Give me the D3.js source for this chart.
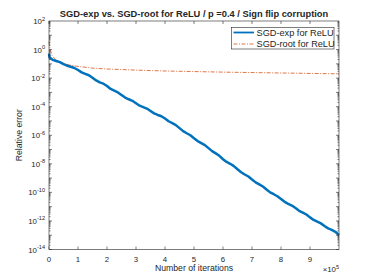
<!DOCTYPE html>
<html>
<head>
<meta charset="utf-8">
<script src="https://cdn.jsdelivr.net/npm/d3@7"></script>
<style>
  body { margin: 0; background: #fff; }
  svg text { font-family: "Liberation Sans", Arial, sans-serif; fill: #262626; }
</style>
</head>
<body>
<div id="chart"></div>
<script>
// --- Data (iterations in units of 1e5, error as log10) ---
const expIter = [0, 0.02, 0.125, 0.25, 0.375, 0.5, 0.625, 0.75, 0.875, 1.0, 1.125, 1.25, 1.375, 1.5, 1.625, 1.75,
  1.875, 2.0, 2.125, 2.25, 2.375, 2.5, 2.625, 2.75, 2.875, 3.0, 3.125, 3.25, 3.375, 3.5, 3.625, 3.75, 3.875, 4.0,
  4.125, 4.25, 4.375, 4.5, 4.625, 4.75, 4.875, 5.0, 5.125, 5.25, 5.375, 5.5, 5.625, 5.75, 5.875, 6.0, 6.125, 6.25,
  6.375, 6.5, 6.625, 6.75, 6.875, 7.0, 7.125, 7.25, 7.375, 7.5, 7.625, 7.75, 7.875, 8.0, 8.125, 8.25, 8.375, 8.5,
  8.625, 8.75, 8.875, 9.0, 9.125, 9.25, 9.375, 9.5, 9.625, 9.75, 9.875, 10.0];
const expLog = [-0.28, -0.55, -0.72, -0.80, -0.88, -1.02, -1.13, -1.20, -1.29, -1.43, -1.60, -1.70, -1.80, -1.97,
  -2.16, -2.30, -2.39, -2.55, -2.76, -2.88, -3.00, -3.18, -3.36, -3.48, -3.59, -3.76, -3.93, -4.03, -4.13, -4.30,
  -4.47, -4.58, -4.67, -4.83, -5.02, -5.15, -5.29, -5.50, -5.71, -5.86, -6.00, -6.21, -6.41, -6.55, -6.69, -6.90,
  -7.11, -7.27, -7.44, -7.68, -7.87, -8.00, -8.16, -8.38, -8.59, -8.75, -8.89, -9.10, -9.30, -9.44, -9.59, -9.80,
  -10.00, -10.13, -10.27, -10.46, -10.66, -10.80, -10.92, -11.10, -11.29, -11.42, -11.55, -11.75, -11.93, -12.05,
  -12.17, -12.35, -12.52, -12.62, -12.76, -12.99];

const rootIter = [0, 0.03, 0.1, 0.2, 0.3, 0.45, 0.7, 1.0, 1.5, 2.0, 2.5, 3.0, 4.0, 5.0, 6.0, 7.0, 8.0, 9.0, 10.0];
const rootLog = [0.55, 0.1, -0.4, -0.65, -0.8, -0.93, -1.08, -1.18, -1.3, -1.36, -1.4, -1.44, -1.5, -1.54, -1.58,
  -1.61, -1.64, -1.67, -1.7];

const xTicks = [0, 1, 2, 3, 4, 5, 6, 7, 8, 9];
const yTickExp = [2, 0, -2, -4, -6, -8, -10, -12, -14];
const legendLabels = ["SGD-exp for ReLU", "SGD-root for ReLU"];

// --- Setup ---
const W = 374, H = 280;
const margin = { top: 21, right: 35, bottom: 30.5, left: 49 };
const width = W - margin.left - margin.right;
const height = H - margin.top - margin.bottom;
const axisColor = "#262626";

const svg = d3.select("#chart").append("svg")
    .attr("width", W)
    .attr("height", H);

const g = svg.append("g")
    .attr("transform", `translate(${margin.left}, ${margin.top})`);

const x = d3.scaleLinear().domain([0, 10]).range([0, width]);
const y = d3.scaleLog().domain([1e-14, 1e2]).range([height, 0]);

// --- Lines ---
const line = d3.line()
    .x(d => x(d[0]))
    .y(d => y(Math.pow(10, d[1])));

const rootData = rootIter.map((t, i) => [t, rootLog[i]]);
const expData = expIter.map((t, i) => [t, expLog[i]]);

g.append("path")
    .datum(rootData)
    .attr("fill", "none")
    .attr("stroke", "#D95319")
    .attr("stroke-width", 0.8)
    .attr("stroke-dasharray", "4,1.5,1,1.5")
    .attr("d", line);

g.append("path")
    .datum(expData)
    .attr("fill", "none")
    .attr("stroke", "#0072BD")
    .attr("stroke-width", 2.5)
    .attr("stroke-linejoin", "round")
    .attr("d", line);

// --- Axes box and ticks ---
const ticks = g.append("g").attr("stroke", axisColor).attr("stroke-width", 0.6);

xTicks.forEach(t => {
    ticks.append("line").attr("x1", x(t)).attr("x2", x(t)).attr("y1", height).attr("y2", height - 3);
    ticks.append("line").attr("x1", x(t)).attr("x2", x(t)).attr("y1", 0).attr("y2", 3);
});

for (let e = -14; e < 2; e++) {
    for (let m = 1; m <= 9; m++) {
        const v = m * Math.pow(10, e);
        const len = m === 1 ? 3 : 1.5;
        ticks.append("line").attr("x1", 0).attr("x2", len).attr("y1", y(v)).attr("y2", y(v));
        ticks.append("line").attr("x1", width).attr("x2", width - len).attr("y1", y(v)).attr("y2", y(v));
    }
}

g.append("rect")
    .attr("width", width)
    .attr("height", height)
    .attr("fill", "none")
    .attr("stroke", axisColor)
    .attr("stroke-width", 0.6);

// tick labels
g.selectAll(".xlab")
    .data(xTicks)
    .enter()
    .append("text")
        .attr("x", d => x(d))
        .attr("y", height + 12)
        .attr("text-anchor", "middle")
        .attr("font-size", 7.8)
        .text(d => d);

const ylab = g.selectAll(".ylab")
    .data(yTickExp)
    .enter()
    .append("text")
        .attr("x", -4)
        .attr("y", d => y(Math.pow(10, d)) + 3)
        .attr("text-anchor", "end")
        .attr("font-size", 7.8);
ylab.append("tspan").text("10");
ylab.append("tspan")
    .attr("dy", -3.5)
    .attr("font-size", 5.6)
    .text(d => d);

// x10^5 multiplier
const mult = g.append("text")
    .attr("x", width)
    .attr("y", height + 22.5)
    .attr("text-anchor", "end")
    .attr("font-size", 7.8);
mult.append("tspan").text("\u00d710");
mult.append("tspan").attr("dy", -3.5).attr("font-size", 5.6).text("5");

// axis labels
g.append("text")
    .attr("x", width / 2)
    .attr("y", height + 21.5)
    .attr("text-anchor", "middle")
    .attr("font-size", 8.7)
    .text("Number of iterations");

g.append("text")
    .attr("transform", "rotate(-90)")
    .attr("x", -height / 2)
    .attr("y", -27)
    .attr("text-anchor", "middle")
    .attr("font-size", 8.7)
    .text("Relative error");

// title
svg.append("text")
    .attr("x", margin.left + width / 2)
    .attr("y", 17)
    .attr("text-anchor", "middle")
    .attr("font-size", 9.3)
    .attr("font-weight", "bold")
    .attr("fill", "#000")
    .text("SGD-exp vs. SGD-root for ReLU / p =0.4 / Sign flip corruption");

// --- Legend ---
const leg = svg.append("g").attr("transform", "translate(231.5, 27.5)");
leg.append("rect")
    .attr("width", 102.5)
    .attr("height", 21.5)
    .attr("fill", "#fff")
    .attr("stroke", axisColor)
    .attr("stroke-width", 0.6);
leg.append("line")
    .attr("x1", 2).attr("x2", 22.5).attr("y1", 5).attr("y2", 5)
    .attr("stroke", "#0072BD").attr("stroke-width", 1.8);
leg.append("line")
    .attr("x1", 2).attr("x2", 22.5).attr("y1", 16.5).attr("y2", 16.5)
    .attr("stroke", "#D95319").attr("stroke-width", 0.8)
    .attr("stroke-dasharray", "4,1.5,1,1.5");
leg.selectAll(".legtext")
    .data(legendLabels)
    .enter()
    .append("text")
        .attr("x", 25)
        .attr("y", (d, i) => 8.3 + i * 11.5)
        .attr("font-size", 9.2)
        .attr("fill", "#000")
        .text(d => d);
</script>
</body>
</html>
